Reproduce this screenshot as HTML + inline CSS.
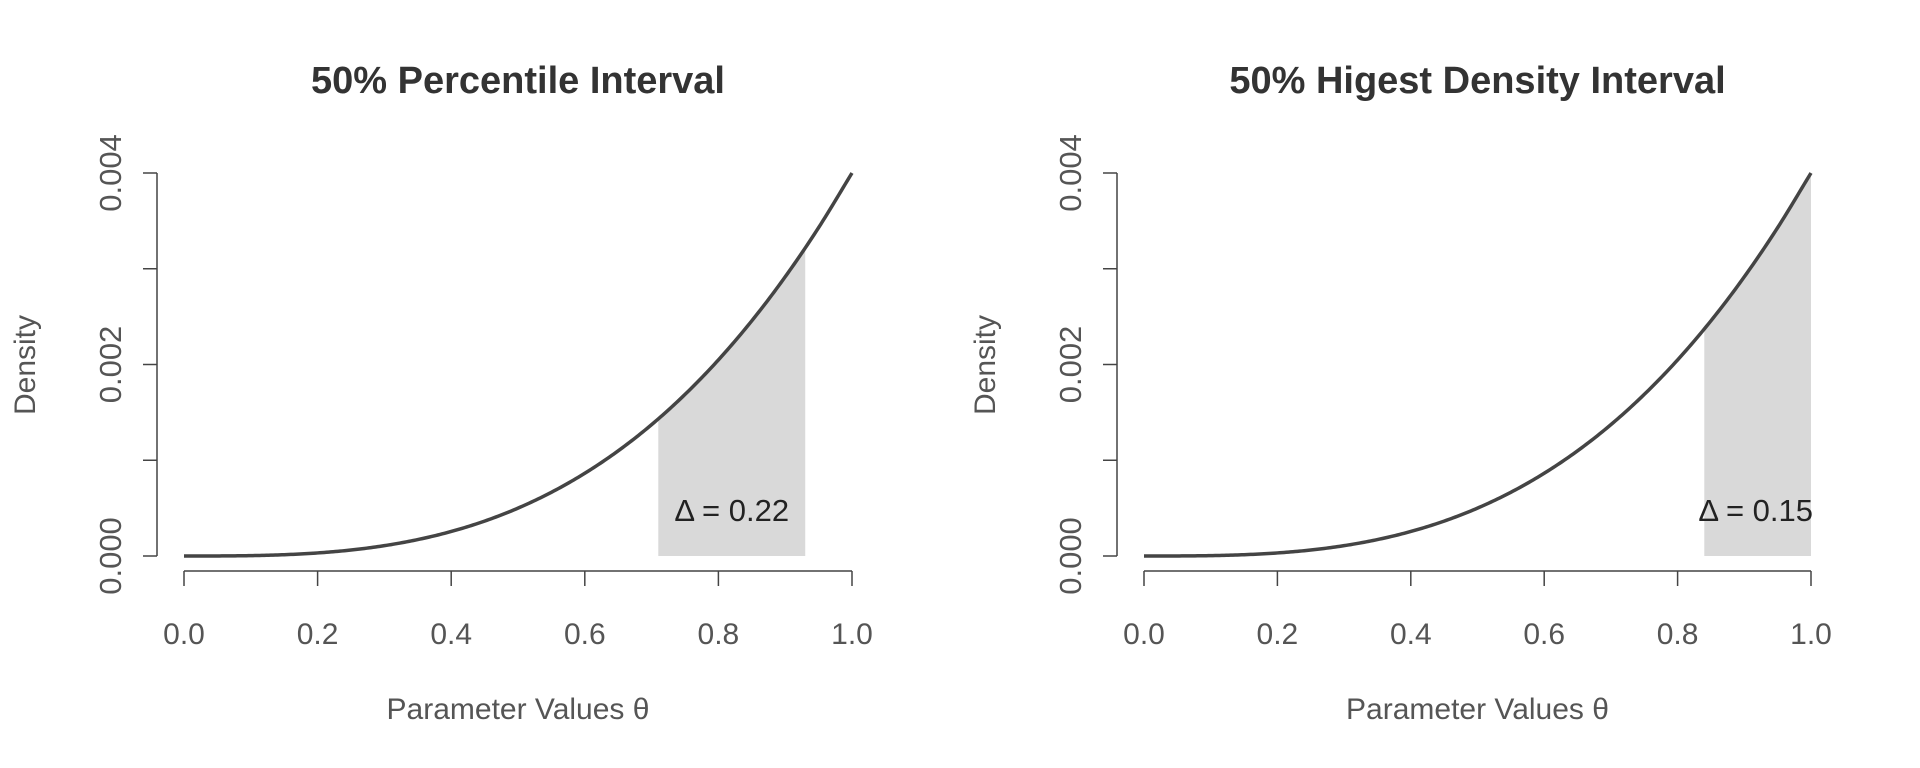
<!DOCTYPE html>
<html><head><meta charset="utf-8"><style>
html,body{margin:0;padding:0;background:#fff;}
svg{display:block;font-family:"Liberation Sans",sans-serif;}
</style></head><body>
<svg id="c" width="1920" height="768" viewBox="0 0 1920 768"></svg>
<script>
const thetaGrid=[0,0.05,0.1,0.15,0.2,0.25,0.3,0.35,0.4,0.45,0.5,0.55,0.6,0.65,0.7,0.75,0.8,0.85,0.9,0.95,1.0];
const densityVals=[0,0.0000005,0.000004,0.0000135,0.000032,0.0000625,0.000108,0.0001715,0.000256,0.0003645,0.0005,0.0006655,0.000864,0.0010985,0.001372,0.0016875,0.002048,0.0024565,0.002916,0.0034295,0.004];
const xTicks=[0,0.2,0.4,0.6,0.8,1.0];
const xTickLabels=["0.0","0.2","0.4","0.6","0.8","1.0"];
const yTicks=[0,0.001,0.002,0.003,0.004];
const yTickLabels=["0.000","","0.002","","0.004"];
const titles=["50% Percentile Interval","50% Higest Density Interval"];
const intervalLo=[0.71,0.84];
const intervalHi=[0.93,1.0];
const deltaLabels=["0.22","0.15"];

const svg=document.getElementById('c');
const NS='http://www.w3.org/2000/svg';
function mk(tag,attrs,parent){const e=document.createElementNS(NS,tag);for(const k in attrs)e.setAttribute(k,attrs[k]);(parent||svg).appendChild(e);return e;}
function slope(i){const n=thetaGrid.length;if(i===0)return (densityVals[1]-densityVals[0])/(thetaGrid[1]-thetaGrid[0]);if(i===n-1)return (densityVals[n-1]-densityVals[n-2])/(thetaGrid[n-1]-thetaGrid[n-2]);return (densityVals[i+1]-densityVals[i-1])/(thetaGrid[i+1]-thetaGrid[i-1]);}
function interp(t){for(let i=0;i<thetaGrid.length-1;i++){if(t<=thetaGrid[i+1]+1e-12){const h=thetaGrid[i+1]-thetaGrid[i];const s=(t-thetaGrid[i])/h;const h00=2*s*s*s-3*s*s+1,h10=s*s*s-2*s*s+s,h01=-2*s*s*s+3*s*s,h11=s*s*s-s*s;return h00*densityVals[i]+h10*h*slope(i)+h01*densityVals[i+1]+h11*h*slope(i+1);}}return densityVals[densityVals.length-1];}

const panels=[{x0:184,x1:852,ax:157},{x0:1144,x1:1811,ax:1117}];
const yBot=556,yTop=173;
panels.forEach((p,pi)=>{
  const g=mk('g',{});
  
  
  const X=v=>p.x0+v*(p.x1-p.x0);
  const Y=v=>yBot-v/0.004*(yBot-yTop);
  let pts=[];
  const lo=intervalLo[pi],hi=intervalHi[pi];
  pts.push(X(lo)+','+Y(0));
  for(let k=0;k<=60;k++){const t=lo+(hi-lo)*k/60;pts.push(X(t)+','+Y(interp(t)));}
  pts.push(X(hi)+','+Y(0));
  const sh=mk('polygon',{points:pts.join(' '),fill:'#d9d9d9'},g);
  
  
  let d='';
  for(let k=0;k<=300;k++){const t=k/300;d+=(k?'L':'M')+X(t).toFixed(2)+','+Y(interp(t)).toFixed(2);}
  const cv=mk('path',{d:d,fill:'none',stroke:'#444','stroke-width':3.5,'stroke-linejoin':'round'},g);
  
  
  const ya=mk('line',{x1:p.ax,x2:p.ax,y1:Y(0.004),y2:Y(0),stroke:'#444','stroke-width':1.5},g);
  
  
  yTicks.forEach((v,i)=>{
    mk('line',{x1:p.ax-14,x2:p.ax,y1:Y(v),y2:Y(v),stroke:'#444','stroke-width':1.5},g);
    if(yTickLabels[i]){
      const tx=mk('text',{x:0,y:0,transform:`translate(${p.ax-36},${Y(v)}) rotate(-90)`,'text-anchor':'middle','font-size':31,fill:'#555'},g);
      tx.textContent=yTickLabels[i];
      
      
    }
  });
  const xa=mk('line',{x1:X(0),x2:X(1),y1:571,y2:571,stroke:'#444','stroke-width':1.5},g);
  
  
  xTicks.forEach((v,i)=>{
    mk('line',{x1:X(v),x2:X(v),y1:571,y2:586,stroke:'#444','stroke-width':1.5},g);
    const tx=mk('text',{x:X(v),y:644,'text-anchor':'middle','font-size':30,fill:'#555'},g);
    tx.textContent=xTickLabels[i];
    
    
  });
  const t=mk('text',{x:(p.x0+p.x1)/2,y:93,'text-anchor':'middle','font-size':38,'font-weight':'bold',fill:'#333'},g);
  t.textContent=titles[pi];
  
  
  const xl=mk('text',{x:(p.x0+p.x1)/2,y:719,'text-anchor':'middle','font-size':30,fill:'#555'},g);
  xl.textContent='Parameter Values θ';
  
  
  const yl=mk('text',{x:0,y:0,transform:`translate(${p.ax-122},365) rotate(-90)`,'text-anchor':'middle','font-size':30,fill:'#555'},g);
  yl.textContent='Density';
  
  
  const dx=pi===0?(X(lo)+X(hi))/2:X(1)+2;
  const dl=mk('text',{x:dx,y:521,'text-anchor':pi===0?'middle':'end','font-size':31,fill:'#222'},g);
  dl.textContent='Δ = '+deltaLabels[pi];
  
  
});
</script>
</body></html>
